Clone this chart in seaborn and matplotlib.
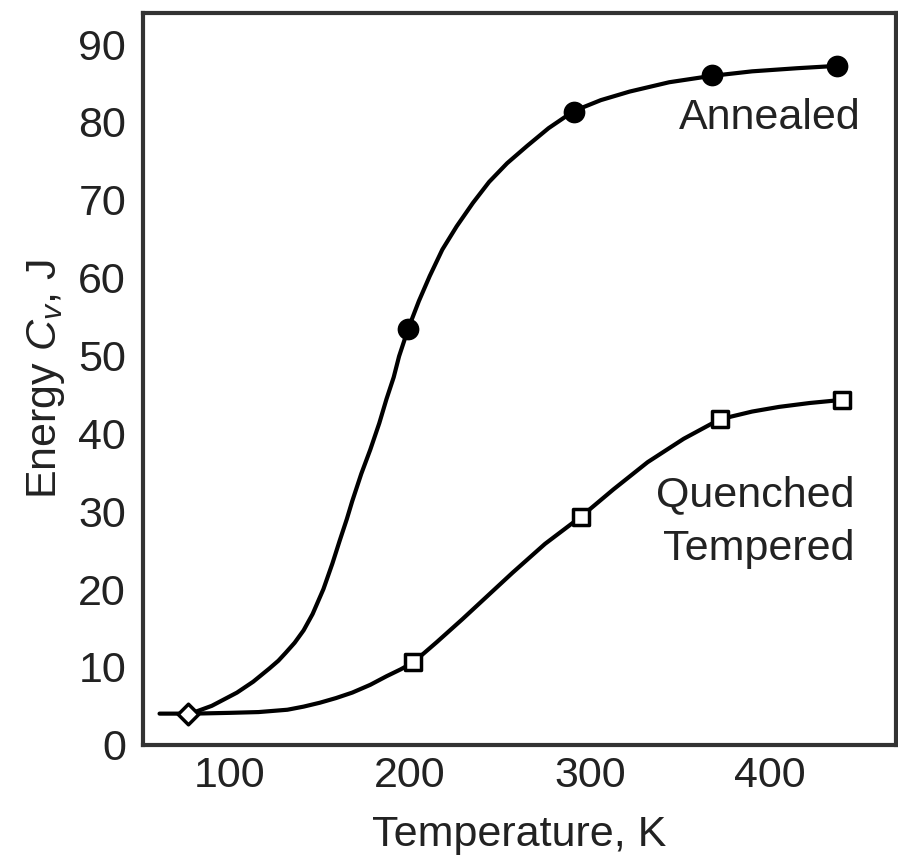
import matplotlib
matplotlib.use("Agg")
import matplotlib.pyplot as plt
import seaborn as sns
import pandas as pd

# measured points (K, J)
annealed_T = [77, 199, 291, 368, 437]
annealed_E = [3.9, 53.4, 81.3, 86.0, 87.2]
quenched_T = [77, 202, 295, 372, 440]
quenched_E = [3.9, 10.6, 29.3, 41.8, 44.3]

# points
annealed_curve_T = [77, 90, 104, 113, 122, 127, 131, 136, 141, 146, 152, 157, 161, 165, 168, 173, 178,
                    183, 187, 191, 194, 199, 205, 211, 218, 226, 235, 244, 254, 265, 277,
                    291, 306, 322, 344, 367, 390, 415, 437]
annealed_curve_E = [3.9, 5.0, 6.7, 8.1, 9.8, 10.8, 11.8, 13.1, 14.7, 16.8, 20.0, 23.3, 26.2, 29.0, 31.3,
                    34.8, 37.9, 41.3, 44.4, 47.2, 49.9, 53.4, 57.0, 60.2, 63.6, 66.6, 69.6,
                    72.3, 74.7, 76.9, 79.2, 81.4, 82.8, 83.9, 85.1, 85.9, 86.5, 86.9, 87.2]
quenched_curve_T = [61, 80, 100, 116, 132, 141, 150, 159, 168, 178, 187, 195, 202, 215, 229,
                    243, 257, 275, 295, 313, 332, 352, 372, 390, 405, 422, 440]
quenched_curve_E = [4.0, 4.0, 4.1, 4.2, 4.5, 4.9, 5.4, 6.0, 6.7, 7.7, 8.8, 9.7, 10.6, 13.2,
                    16.1, 19.1, 22.1, 25.8, 29.3, 32.8, 36.3, 39.3, 41.8, 42.8, 43.4, 43.9, 44.3]

sns.set_style("white")
plt.rcParams['font.family'] = ['Liberation Sans', 'DejaVu Sans']
plt.rcParams['mathtext.fontset'] = 'custom'
plt.rcParams['mathtext.it'] = 'Liberation Sans:italic'
plt.rcParams['mathtext.rm'] = 'Liberation Sans'

fig = plt.figure(figsize=(8.98, 8.63), dpi=100)
ax = fig.add_axes([0.159, 0.137, 0.839, 0.848])

curves = pd.DataFrame({
    'T': annealed_curve_T + quenched_curve_T,
    'E': annealed_curve_E + quenched_curve_E,
    'series': ['Annealed'] * len(annealed_curve_T) + ['Quenched'] * len(quenched_curve_T),
})
sns.lineplot(data=curves, x='T', y='E', hue='series', palette=['black', 'black'],
             sort=False, estimator=None, linewidth=3, legend=False, ax=ax)

sns.scatterplot(x=annealed_T[1:], y=annealed_E[1:], color='black', marker='o', s=200,
                edgecolor='black', linewidth=1.5, zorder=5, ax=ax)
sns.scatterplot(x=quenched_T[1:], y=quenched_E[1:], color='white', marker='s', s=120,
                edgecolor='black', linewidth=2.5, zorder=5, ax=ax)
sns.scatterplot(x=quenched_T[:1], y=quenched_E[:1], color='white', marker='D', s=110,
                edgecolor='black', linewidth=2.5, zorder=5, ax=ax)

ax.set_xlim(51.7, 470)
ax.set_ylim(0, 94)
ax.set_xticks([100, 200, 300, 400])
ax.set_yticks(range(0, 100, 10))
ax.tick_params(direction='in', length=14, width=2, labelsize=31, colors='#222222')
ax.tick_params(axis='y', pad=12)
ax.tick_params(axis='x', pad=8)
for s in ax.spines.values():
    s.set_color('#333333')
    s.set_linewidth(3)

ax.set_xlabel('Temperature, K', fontsize=31, color='#222222', labelpad=14)
ax.set_ylabel('Energy $C_v$, J', fontsize=31, color='#222222', labelpad=8)

ax.text(450, 80.5, 'Annealed', fontsize=31, ha='right', va='center', color='#222222')
ax.text(447, 32.0, 'Quenched', fontsize=31, ha='right', va='center', color='#222222')
ax.text(447, 25.2, 'Tempered', fontsize=31, ha='right', va='center', color='#222222')

fig.savefig('out.png', dpi=100)
